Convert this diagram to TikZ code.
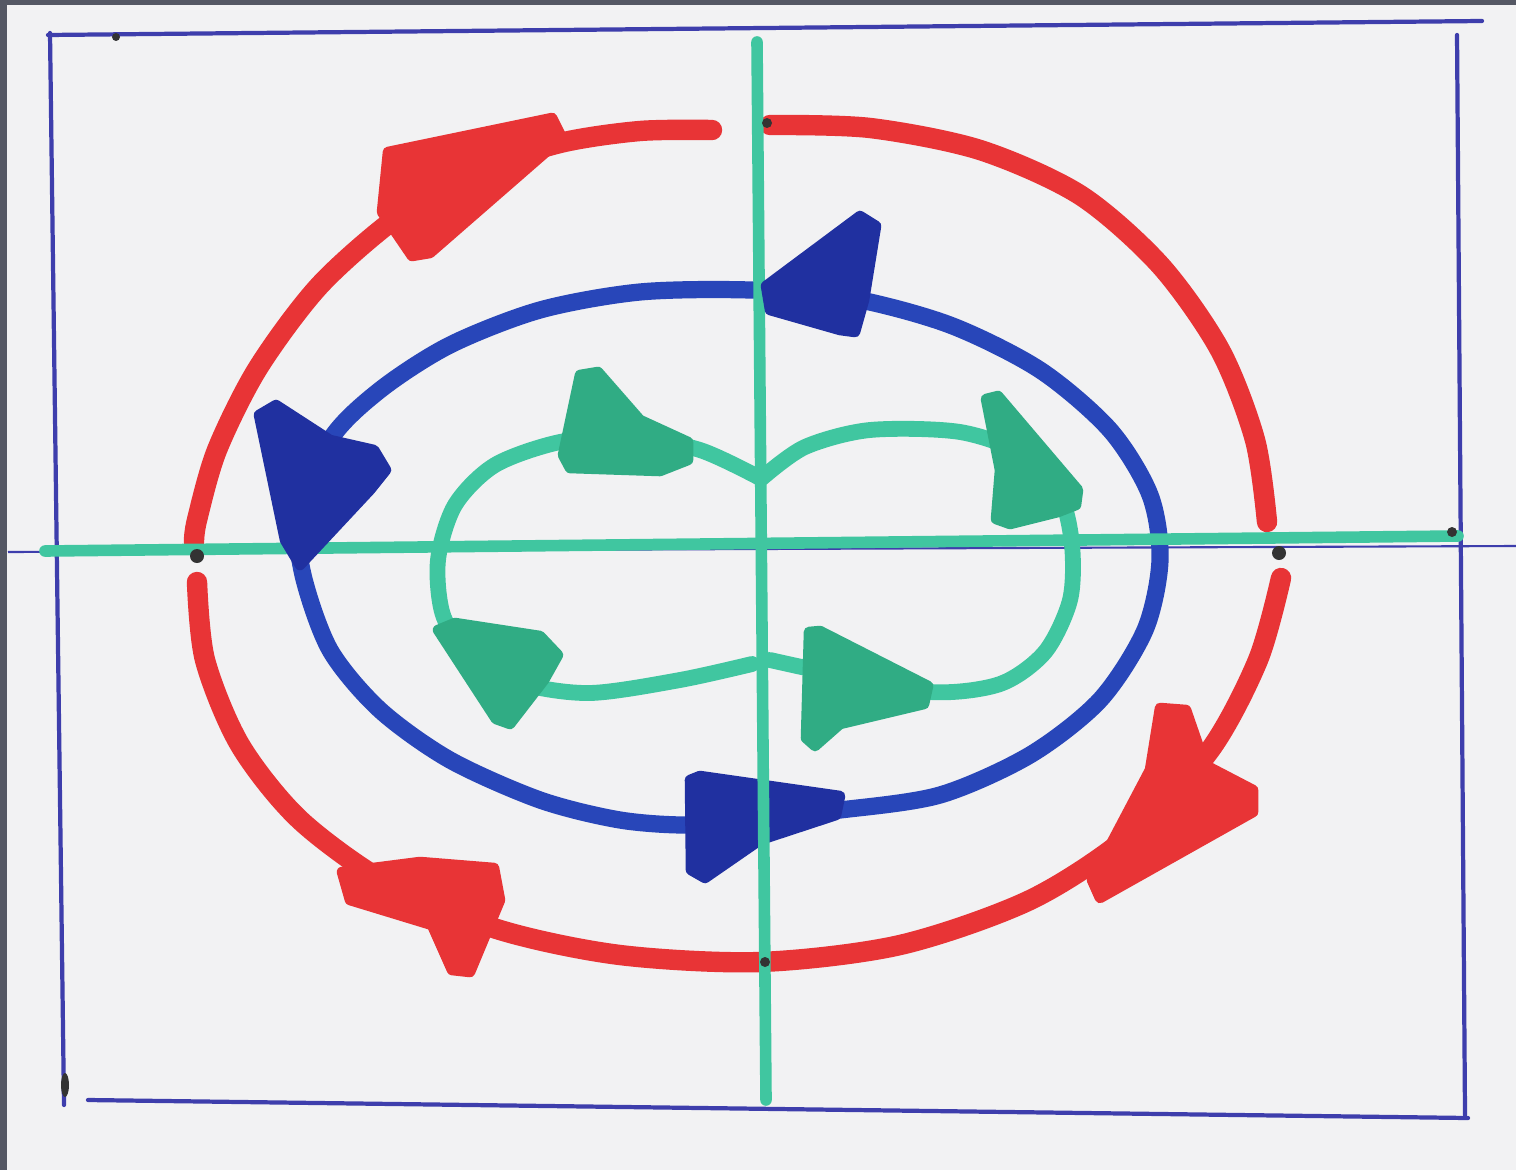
\documentclass[tikz,border=0pt]{standalone}
\begin{document}
\begin{tikzpicture}[x=0.01cm,y=-0.01cm,
  redline/.style={draw=redm,line width=5.8pt,line cap=round,line join=round},
  blueline/.style={draw=bluem,line width=4.9pt,line cap=round,line join=round},
  greenline/.style={draw=greenm,line width=4.5pt,line cap=round,line join=round},
  axisline/.style={draw=greenm,line width=3.3pt,line cap=round},
  framepen/.style={draw=framec,line width=1.2pt,line cap=round},
  redhead/.style={fill=redm,draw=redm,line width=3pt,line join=round},
  bluehead/.style={fill=blueh,draw=blueh,line width=3pt,line join=round},
  greenhead/.style={fill=greenh,draw=greenh,line width=3pt,line join=round},
  inkdot/.style={fill=black!80}]
\definecolor{paper}{RGB}{242,242,243}
\definecolor{edgec}{RGB}{85,88,100}
\definecolor{framec}{RGB}{62,62,172}
\definecolor{redm}{RGB}{232,52,54}
\definecolor{bluem}{RGB}{40,70,185}
\definecolor{blueh}{RGB}{32,48,160}
\definecolor{greenm}{RGB}{64,198,160}
\definecolor{greenh}{RGB}{48,172,132}
\useasboundingbox (0,0) rectangle (1516,1170);
\fill[paper] (0,0) rectangle (1516,1170);
\fill[edgec] (0,0) rectangle (1516,5);
\fill[edgec] (0,0) rectangle (7,1170);
% frame
\draw[framepen] (48,35) -- (1482,21);
\draw[framepen] (50,33) -- (64,1105);
\draw[framepen] (88,1100) -- (1468,1118);
\draw[framepen] (1457,35) -- (1465,1115);
\draw[framec,line width=0.6pt] (8,552) -- (1516,546);
% red orbit
\draw[redline] plot[smooth] coordinates {(712,130) (640,131) (560,143) (480,170) (400,215) (320,285) (258,368) (217,450) (197,520) (194,542)};
\draw[redline] plot[smooth] coordinates {(197,582) (205,660) (240,745) (300,820) (390,885) (500,930) (620,955) (760,962) (900,945) (1030,900) (1130,835) (1210,750) (1258,660) (1281,578)};
\draw[redline] plot[smooth] coordinates {(1267,522) (1255,440) (1220,350) (1160,265) (1080,195) (980,150) (870,128) (770,125)};
% blue orbit
\draw[blueline] plot[smooth cycle] coordinates {(750,290) (850,298) (950,325) (1040,370) (1110,430) (1150,495) (1160,560) (1145,630) (1100,700) (1030,755) (940,795) (840,810) (750,818) (690,825) (620,820) (540,800) (450,760) (380,710) (330,650) (303,575) (300,520) (330,440) (380,390) (450,345) (540,310) (640,292)};
\fill[bluehead] (690,780) -- (700,776) -- (840,796) -- (836,815) -- (760,840) -- (705,878) -- (691,870) -- cycle;
% green orbits
\draw[greenline] plot[smooth] coordinates {(760,478) (700,450) (630,437) (560,442) (495,465) (455,505) (438,560) (443,615) (470,655) (520,683) (590,693) (680,680) (752,664)};
\draw[greenline] plot[smooth] coordinates {(770,660) (830,673) (930,692) (1000,684) (1045,652) (1070,600) (1072,545) (1060,495) (1025,455) (960,432) (870,430) (805,447) (762,478)};
% axes
\draw[axisline] (45,551) -- (1458,536);
\draw[axisline] (757,42) -- (766,1100);
% red heads
\fill[redhead] (388,152) -- (552,118) -- (562,138) -- (430,253) -- (412,256) -- (382,212) -- cycle;
\fill[redhead] (1160,708) -- (1186,710) -- (1205,765) -- (1253,790) -- (1253,812) -- (1100,898) -- (1092,880) -- (1150,770) -- cycle;
\fill[redhead] (342,872) -- (420,862) -- (494,868) -- (500,900) -- (470,972) -- (452,970) -- (432,925) -- (350,900) -- cycle;
% blue heads
\fill[bluehead] (766,286) -- (860,216) -- (876,226) -- (864,300) -- (855,332) -- (840,330) -- (770,310) -- cycle;
\fill[bluehead] (259,415) -- (276,405) -- (330,440) -- (374,450) -- (386,470) -- (370,490) -- (300,565) -- (285,540) -- cycle;
% green heads
\fill[greenhead] (580,375) -- (598,372) -- (640,420) -- (688,442) -- (688,460) -- (660,471) -- (570,468) -- (563,455) -- cycle;
\fill[greenhead] (986,399) -- (998,396) -- (1078,490) -- (1076,505) -- (1058,512) -- (1010,524) -- (996,519) -- (1000,470) -- cycle;
\fill[greenhead] (438,630) -- (455,623) -- (540,636) -- (558,655) -- (544,680) -- (510,724) -- (496,719) -- cycle;
\fill[greenhead] (809,632) -- (820,631) -- (928,686) -- (924,704) -- (840,724) -- (815,746) -- (806,738) -- cycle;
% ink dots
\fill[inkdot] (197,556) circle (7);
\fill[inkdot] (1279,553) circle (7);
\fill[inkdot] (767,123) circle (5);
\fill[inkdot] (765,962) circle (5);
\fill[inkdot] (1452,532) circle (5);
\fill[inkdot] (65,1085) ellipse (4 and 12);
\fill[inkdot] (116,37) circle (4);
\end{tikzpicture}
\end{document}
